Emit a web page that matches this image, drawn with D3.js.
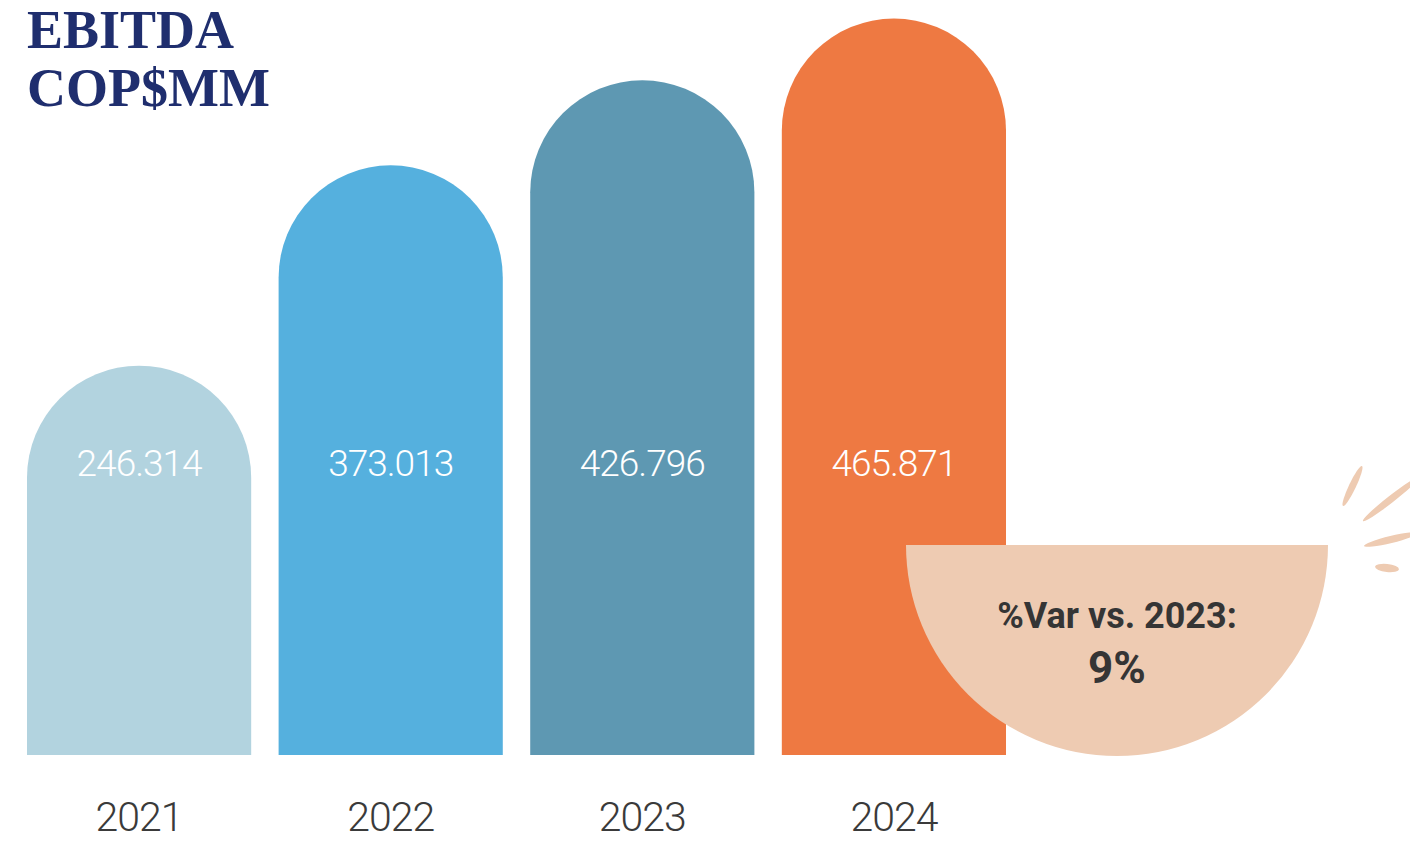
<!DOCTYPE html>
<html>
<head>
<meta charset="utf-8">
<script src="https://cdn.jsdelivr.net/npm/d3@7"></script>
<style>
  body { margin: 0; background: #fff; }
  svg { display: block; }
</style>
</head>
<body>
<div id="chart"></div>
<script>
// Data
var years = ["2021", "2022", "2023", "2024"];
var ebitda = [246.314, 373.013, 426.796, 465.871];
var valueLabels = ["246.314", "373.013", "426.796", "465.871"];
var barColors = ["#b2d3df", "#55b0de", "#5e98b2", "#ee7942"];
var titleLines = ["EBITDA", "COP$MM"];
var varLabel = "%Var vs. 2023:";
var varValue = "9%";

var svgWidth = 1410;
var svgHeight = 842;

var svg = d3.select("#chart")
  .append("svg")
  .attr("width", svgWidth)
  .attr("height", svgHeight);

// Scales
var xScale = d3.scaleBand()
  .domain(years)
  .range([27, 1006])
  .paddingInner(0.109)
  .paddingOuter(0);

var yScale = d3.scaleLinear()
  .domain([0, 465.871])
  .range([755, 18.5]);

var bw = xScale.bandwidth();
var r = bw / 2;

// rounded-top bar path
function barPath(d, i) {
  var x0 = xScale(years[i]);
  var top = yScale(d);
  var base = yScale(0);
  return "M" + x0 + "," + base +
    "L" + x0 + "," + (top + r) +
    "A" + r + "," + r + " 0 0 1 " + (x0 + bw) + "," + (top + r) +
    "L" + (x0 + bw) + "," + base + "Z";
}

svg.append("g")
  .selectAll("path")
  .data(ebitda)
  .enter()
  .append("path")
  .attr("d", barPath)
  .attr("fill", (d, i) => barColors[i]);

// half circle with variation
var cx = 1117, cy = 545, cr = 211;
var arc = d3.arc()
  .innerRadius(0)
  .outerRadius(cr)
  .startAngle(Math.PI / 2)
  .endAngle(Math.PI * 3 / 2);

svg.append("path")
  .attr("transform", `translate(${cx}, ${cy})`)
  .attr("d", arc())
  .attr("fill", "#eecbb2");

// little burst strokes
var strokes = [
  {x1: 1362, y1: 466, x2: 1343, y2: 506, w: 7},
  {x1: 1418, y1: 478, x2: 1363, y2: 521, w: 7},
  {x1: 1418, y1: 533, x2: 1364, y2: 546, w: 7}
];
strokes.forEach(function(s) {
  var dx = s.x2 - s.x1, dy = s.y2 - s.y1;
  var len = Math.sqrt(dx * dx + dy * dy);
  var ang = Math.atan2(dy, dx) * 180 / Math.PI;
  svg.append("ellipse")
    .attr("cx", (s.x1 + s.x2) / 2)
    .attr("cy", (s.y1 + s.y2) / 2)
    .attr("rx", len / 2)
    .attr("ry", s.w / 2)
    .attr("transform", `rotate(${ang}, ${(s.x1 + s.x2) / 2}, ${(s.y1 + s.y2) / 2})`)
    .attr("fill", "#eecbb2");
});
svg.append("ellipse")
  .attr("cx", 1387)
  .attr("cy", 568)
  .attr("rx", 12)
  .attr("ry", 4)
  .attr("transform", "rotate(6, 1387, 568)")
  .attr("fill", "#eecbb2");

svg.append("text")
  .attr("x", cx)
  .attr("y", 628)
  .attr("text-anchor", "middle")
  .style("font-family", "Roboto, 'Noto Sans', sans-serif")
  .style("font-weight", "700")
  .style("font-size", "36px")
  .attr("fill", "#353535")
  .text(varLabel);

svg.append("text")
  .attr("x", cx)
  .attr("y", 683)
  .attr("text-anchor", "middle")
  .style("font-family", "Roboto, 'Noto Sans', sans-serif")
  .style("font-weight", "700")
  .style("font-size", "44px")
  .attr("fill", "#353535")
  .text(varValue);

// value labels inside bars
svg.append("g")
  .selectAll("text")
  .data(valueLabels)
  .enter()
  .append("text")
  .attr("x", (d, i) => xScale(years[i]) + bw / 2)
  .attr("y", 476)
  .attr("text-anchor", "middle")
  .style("font-family", "Roboto, 'Noto Sans', sans-serif")
  .style("font-weight", "300")
  .style("font-size", "37px")
  .style("letter-spacing", "-1px")
  .attr("fill", "#ffffff")
  .text(d => d);

// year axis
var xAxis = d3.axisBottom(xScale).tickSize(0);
var axisG = svg.append("g")
  .attr("transform", "translate(0, 800)")
  .call(xAxis);
axisG.select(".domain").remove();
axisG.selectAll("text")
  .attr("dy", "0")
  .attr("y", 31)
  .style("font-family", "Roboto, 'Noto Sans', sans-serif")
  .style("font-weight", "300")
  .style("font-size", "41px")
  .style("letter-spacing", "-1px")
  .attr("fill", "#3a3a3a");

// title
svg.append("g")
  .selectAll("text")
  .data(titleLines)
  .enter()
  .append("text")
  .attr("x", 27)
  .attr("y", (d, i) => 48 + i * 58)
  .style("font-family", "'Liberation Serif', 'DejaVu Serif', serif")
  .style("font-weight", "700")
  .style("font-size", "54px")
  .attr("fill", "#1f2e6e")
  .text(d => d);
</script>
</body>
</html>
